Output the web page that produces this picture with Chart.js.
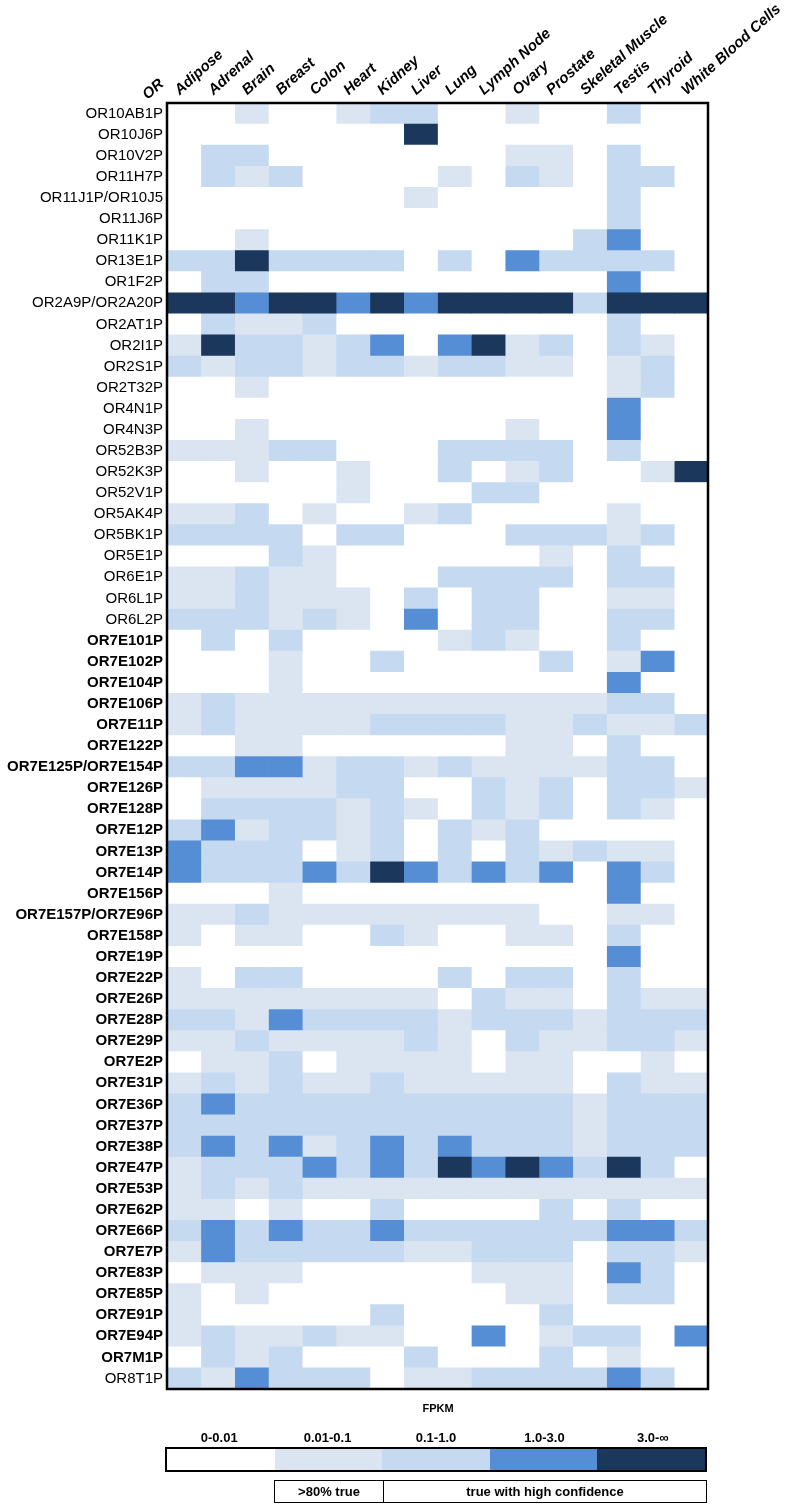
<!DOCTYPE html>
<html>
<head>
<meta charset="utf-8">
<title>OR pseudogene expression</title>
<script src="https://cdn.jsdelivr.net/npm/chart.js@4.4.0/dist/chart.umd.min.js"></script>
<style>
  body { margin: 0; background: #fff; font-family: "Liberation Sans", Arial, sans-serif; }
  #wrap { position: relative; width: 793px; height: 1508px; overflow: hidden; }
  #heat { position: absolute; left: 0; top: 0; }
  .lab { position: absolute; font-weight: bold; color: #000; white-space: nowrap; transform: translate(-50%, -50%); }
  #fpkm { font-size: 11px; left: 438px; top: 1408px; }
  .range { font-size: 13px; top: 1437px; }
  #bar { position: absolute; left: 165px; top: 1447px; width: 542px; height: 25px; border: 2px solid #000;
         box-sizing: border-box; display: flex; }
  #bar div { flex: 1; }
  #conf { position: absolute; left: 274px; top: 1480px; width: 433px; height: 23px; border: 1.5px solid #000;
          box-sizing: border-box; display: flex; font-size: 13px; font-weight: bold; }
  #conf div { display: flex; align-items: center; justify-content: center; }
  #conf div:first-child { width: 108px; border-right: 1.5px solid #000; }
  #conf div:last-child { flex: 1; }
</style>
</head>
<body>
<div id="wrap">
  <canvas id="heat"></canvas>
  <div id="fpkm" class="lab">FPKM</div>
  <div id="ranges"></div>
  <div id="bar"></div>
  <div id="conf"><div>&gt;80% true</div><div>true with high confidence</div></div>
</div>
<script>
const tissues = ['Adipose', 'Adrenal', 'Brain', 'Breast', 'Colon', 'Heart', 'Kidney', 'Liver', 'Lung',
  'Lymph Node', 'Ovary', 'Prostate', 'Skeletal Muscle', 'Testis', 'Thyroid', 'White Blood Cells'];

const genes = ['OR10AB1P', 'OR10J6P', 'OR10V2P', 'OR11H7P', 'OR11J1P/OR10J5', 'OR11J6P', 'OR11K1P',
  'OR13E1P', 'OR1F2P', 'OR2A9P/OR2A20P', 'OR2AT1P', 'OR2I1P', 'OR2S1P', 'OR2T32P', 'OR4N1P', 'OR4N3P',
  'OR52B3P', 'OR52K3P', 'OR52V1P', 'OR5AK4P', 'OR5BK1P', 'OR5E1P', 'OR6E1P', 'OR6L1P', 'OR6L2P',
  'OR7E101P', 'OR7E102P', 'OR7E104P', 'OR7E106P', 'OR7E11P', 'OR7E122P', 'OR7E125P/OR7E154P',
  'OR7E126P', 'OR7E128P', 'OR7E12P', 'OR7E13P', 'OR7E14P', 'OR7E156P', 'OR7E157P/OR7E96P',
  'OR7E158P', 'OR7E19P', 'OR7E22P', 'OR7E26P', 'OR7E28P', 'OR7E29P', 'OR7E2P', 'OR7E31P',
  'OR7E36P', 'OR7E37P', 'OR7E38P', 'OR7E47P', 'OR7E53P', 'OR7E62P', 'OR7E66P', 'OR7E7P',
  'OR7E83P', 'OR7E85P', 'OR7E91P', 'OR7E94P', 'OR7M1P', 'OR8T1P'];

// FPKM class per gene (row) and tissue (column): 0 = 0-0.01 ... 4 = 3.0-inf
const levels = [
  [0,0,1,0,0,1,2,2,0,0,1,0,0,2,0,0],
  [0,0,0,0,0,0,0,4,0,0,0,0,0,0,0,0],
  [0,2,2,0,0,0,0,0,0,0,1,1,0,2,0,0],
  [0,2,1,2,0,0,0,0,1,0,2,1,0,2,2,0],
  [0,0,0,0,0,0,0,1,0,0,0,0,0,2,0,0],
  [0,0,0,0,0,0,0,0,0,0,0,0,0,2,0,0],
  [0,0,1,0,0,0,0,0,0,0,0,0,2,3,0,0],
  [2,2,4,2,2,2,2,0,2,0,3,2,2,2,2,0],
  [0,2,2,0,0,0,0,0,0,0,0,0,0,3,0,0],
  [4,4,3,4,4,3,4,3,4,4,4,4,2,4,4,4],
  [0,2,1,1,2,0,0,0,0,0,0,0,0,2,0,0],
  [1,4,2,2,1,2,3,0,3,4,1,2,0,2,1,0],
  [2,1,2,2,1,2,2,1,2,2,1,1,0,1,2,0],
  [0,0,1,0,0,0,0,0,0,0,0,0,0,1,2,0],
  [0,0,0,0,0,0,0,0,0,0,0,0,0,3,0,0],
  [0,0,1,0,0,0,0,0,0,0,1,0,0,3,0,0],
  [1,1,1,2,2,0,0,0,2,2,2,2,0,2,0,0],
  [0,0,1,0,0,1,0,0,2,0,1,2,0,0,1,4],
  [0,0,0,0,0,1,0,0,0,2,2,0,0,0,0,0],
  [1,1,2,0,1,0,0,1,2,0,0,0,0,1,0,0],
  [2,2,2,2,0,2,2,0,0,0,2,2,2,1,2,0],
  [0,0,0,2,1,0,0,0,0,0,0,1,0,2,0,0],
  [1,1,2,1,1,0,0,0,2,2,2,2,0,2,2,0],
  [1,1,2,1,1,1,0,2,0,2,2,0,0,1,1,0],
  [2,2,2,1,2,1,0,3,0,2,2,0,0,2,2,0],
  [0,2,0,2,0,0,0,0,1,2,1,0,0,2,0,0],
  [0,0,0,1,0,0,2,0,0,0,0,2,0,1,3,0],
  [0,0,0,1,0,0,0,0,0,0,0,0,0,3,0,0],
  [1,2,1,1,1,1,1,1,1,1,1,1,1,2,2,0],
  [1,2,1,1,1,1,2,2,2,2,1,1,2,1,1,2],
  [0,0,1,1,0,0,0,0,0,0,1,1,0,2,0,0],
  [2,2,3,3,1,2,2,1,2,1,1,1,1,2,2,0],
  [0,1,1,1,1,2,2,0,0,2,1,2,0,2,2,1],
  [0,2,2,2,2,1,2,1,0,2,1,2,0,2,1,0],
  [2,3,1,2,2,1,2,0,2,1,2,0,0,0,0,0],
  [3,2,2,2,0,1,2,0,2,0,2,1,2,1,1,0],
  [3,2,2,2,3,2,4,3,2,3,2,3,0,3,2,0],
  [0,0,0,1,0,0,0,0,0,0,0,0,0,3,0,0],
  [1,1,2,1,1,1,1,1,1,1,1,0,0,1,1,0],
  [1,0,1,1,0,0,2,1,0,0,1,1,0,2,0,0],
  [0,0,0,0,0,0,0,0,0,0,0,0,0,3,0,0],
  [1,0,2,2,0,0,0,0,2,0,2,2,0,2,0,0],
  [1,1,1,1,1,1,1,1,0,2,1,1,0,2,1,1],
  [2,2,1,3,2,2,2,2,1,2,2,2,1,2,2,2],
  [1,1,2,1,1,1,1,2,1,0,2,1,1,2,2,1],
  [0,1,1,2,0,1,1,1,1,0,1,1,0,0,1,0],
  [1,2,1,2,1,1,2,1,1,1,1,1,0,2,1,1],
  [2,3,2,2,2,2,2,2,2,2,2,2,1,2,2,2],
  [2,2,2,2,2,2,2,2,2,2,2,2,1,2,2,2],
  [2,3,2,3,1,2,3,2,3,2,2,2,1,2,2,2],
  [1,2,2,2,3,2,3,2,4,3,4,3,2,4,2,0],
  [1,2,1,2,1,1,1,1,1,1,1,1,1,1,1,1],
  [1,1,0,1,0,0,2,0,0,0,0,2,0,2,0,0],
  [2,3,2,3,2,2,3,2,2,2,2,2,2,3,3,2],
  [1,3,2,2,2,2,2,1,1,2,2,2,0,2,2,1],
  [0,1,1,1,0,0,0,0,0,1,1,1,0,3,2,0],
  [1,0,1,0,0,0,0,0,0,0,1,1,0,2,2,0],
  [1,0,0,0,0,0,2,0,0,0,0,2,0,0,0,0],
  [1,2,1,1,2,1,1,0,0,3,0,1,2,2,0,3],
  [0,2,1,2,0,0,0,2,0,0,0,2,0,1,0,0],
  [2,1,3,2,2,2,0,1,1,2,2,2,2,3,2,0]
];

const levelLabels = ['0-0.01', '0.01-0.1', '0.1-1.0', '1.0-3.0', '3.0-\u221E'];
const levelColors = ['#ffffff', '#dbe5f1', '#c5d9f1', '#558ed5', '#1b375c'];

const FONT = '"Liberation Sans", Arial, sans-serif';
const W = 793, H = 1508;
const GRID_LEFT = 167, GRID_RIGHT = 708, GRID_TOP = 103, GRID_BOTTOM = 1389;
const HEAD_ROT = 42;

// legend
const bar = document.getElementById('bar');
const ranges = document.getElementById('ranges');
const segW = 542 / levelLabels.length;
levelLabels.forEach((l, i) => {
  const seg = document.createElement('div');
  seg.style.background = levelColors[i];
  bar.appendChild(seg);
  const t = document.createElement('div');
  t.className = 'lab range';
  t.textContent = l;
  t.style.left = (165 + segW * (i + 0.5)) + 'px';
  ranges.appendChild(t);
});

const frame = {
  id: 'frame',
  afterDraw(chart) {
    const { ctx, chartArea: a } = chart;
    ctx.save();
    ctx.lineWidth = 2.5;
    ctx.strokeStyle = '#000';
    ctx.strokeRect(a.left, a.top, a.right - a.left, a.bottom - a.top);
    ctx.translate(a.left - 22, a.top - 6);
    ctx.rotate(-HEAD_ROT * Math.PI / 180);
    ctx.font = 'italic bold 15px ' + FONT;
    ctx.fillStyle = '#000';
    ctx.textBaseline = 'middle';
    ctx.fillText('OR', 0, 0);
    ctx.restore();
  }
};

const canvas = document.getElementById('heat');
canvas.width = W; canvas.height = H;
canvas.style.width = W + 'px'; canvas.style.height = H + 'px';

new Chart(canvas, {
  type: 'bar',
  data: {
    labels: genes,
    datasets: tissues.map((t, j) => ({
      label: t,
      data: genes.map(() => 1),
      backgroundColor: levels.map(r => levelColors[r[j]]),
      borderWidth: 0,
      barPercentage: 1,
      categoryPercentage: 1
    }))
  },
  options: {
    indexAxis: 'y',
    responsive: false,
    animation: false,
    layout: { padding: { left: 0, top: 0, right: W - GRID_RIGHT, bottom: H - GRID_BOTTOM } },
    plugins: { legend: { display: false }, tooltip: { enabled: false } },
    scales: {
      x: {
        type: 'linear',
        position: 'top',
        stacked: true,
        min: 0,
        max: tissues.length,
        grid: { display: false, drawTicks: false },
        border: { display: false },
        afterBuildTicks: s => { s.ticks = tissues.map((t, i) => ({ value: i + 0.5 })); },
        afterFit: s => { s.height = GRID_TOP; },
        ticks: {
          autoSkip: false,
          minRotation: HEAD_ROT,
          maxRotation: HEAD_ROT,
          padding: 4,
          labelOffset: 5,
          color: '#000',
          font: { family: FONT, size: 15, weight: 'bold', style: 'italic' },
          callback: (v, i) => tissues[i]
        }
      },
      y: {
        type: 'category',
        stacked: true,
        grid: { display: false, drawTicks: false },
        border: { display: false },
        afterFit: s => { s.width = GRID_LEFT; },
        ticks: {
          autoSkip: false,
          padding: 4,
          color: '#000',
          font: c => ({ family: FONT, size: 15, weight: genes[c.index].startsWith('OR7') ? 'bold' : 'normal' })
        }
      }
    }
  },
  plugins: [frame]
});
</script>
</body>
</html>
